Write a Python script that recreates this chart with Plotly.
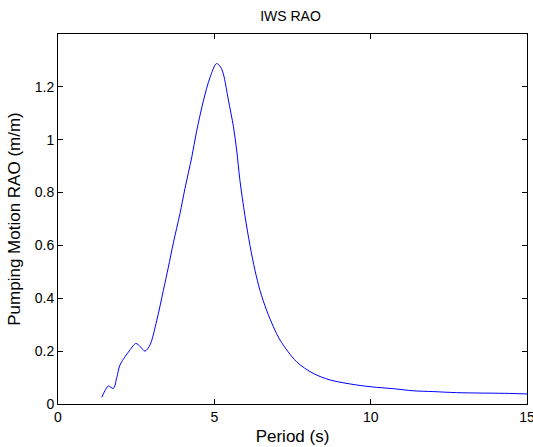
import plotly.graph_objects as go

period = [1.40, 1.50, 1.61, 1.77, 1.88, 1.98, 2.15, 2.30, 2.49, 2.65, 2.78, 2.94,
          3.16, 3.37, 3.53, 3.69, 3.90, 4.06, 4.28, 4.43, 4.65, 4.86, 5.07, 5.20,
          5.29, 5.45, 5.61, 5.71, 5.82, 5.98, 6.14, 6.30, 6.46, 6.67, 6.89, 7.10,
          7.63, 8.16, 8.70, 9.55, 10.19, 10.72, 11.36, 12.00, 12.75, 14.45, 15.00]
rao = [0.025, 0.050, 0.068, 0.059, 0.100, 0.147, 0.180, 0.204, 0.229, 0.215, 0.200, 0.223,
       0.317, 0.430, 0.518, 0.610, 0.720, 0.815, 0.935, 1.030, 1.147, 1.235, 1.288, 1.275,
       1.248, 1.150, 1.050, 0.965, 0.845, 0.712, 0.600, 0.506, 0.430, 0.355, 0.292, 0.242,
       0.160, 0.116, 0.091, 0.072, 0.063, 0.058, 0.050, 0.047, 0.043, 0.040, 0.038]

x_ticks = [0, 5, 10, 15]
y_ticks = [0, 0.2, 0.4, 0.6, 0.8, 1, 1.2]
y_tick_labels = ["0", "0.2", "0.4", "0.6", "0.8", "1", "1.2"]

font_family = "Liberation Sans, Arial, sans-serif"

fig = go.Figure()
fig.add_trace(go.Scatter(
    x=period, y=rao, mode="lines",
    line=dict(color="#0000ff", width=1, shape="spline", smoothing=0.9),
    showlegend=False, hoverinfo="x+y",
))

axis_common = dict(
    showgrid=False, zeroline=False, automargin=False,
    showline=True, linecolor="black", linewidth=1, mirror="ticks",
    ticks="inside", ticklen=5, tickwidth=1, tickcolor="black",
    ticklabeloverflow="allow",
    tickfont=dict(family=font_family, size=14, color="black"),
)

fig.update_layout(
    width=533, height=447,
    margin=dict(l=58, r=6, t=34, b=43, autoexpand=False),
    paper_bgcolor="white", plot_bgcolor="white",
    title=dict(text="IWS RAO", x=0.545, xanchor="center", y=0.963, yanchor="middle",
               automargin=False,
               font=dict(family=font_family, size=14, color="black")),
    xaxis=dict(range=[0, 15], tickvals=x_ticks, ticktext=[str(v) for v in x_ticks],
               title=dict(text="Period (s)", standoff=6,
                          font=dict(family=font_family, size=17, color="black")),
               **axis_common),
    yaxis=dict(range=[0, 1.4], tickvals=y_ticks, ticktext=y_tick_labels,
               title=dict(text="Pumping Motion RAO (m/m)", standoff=9,
                          font=dict(family=font_family, size=17, color="black")),
               **axis_common),
)

fig.write_html(
    "out.html",
    config={"displayModeBar": False},
    post_script="document.body.style.margin='0px';document.body.style.overflow='hidden';",
)
